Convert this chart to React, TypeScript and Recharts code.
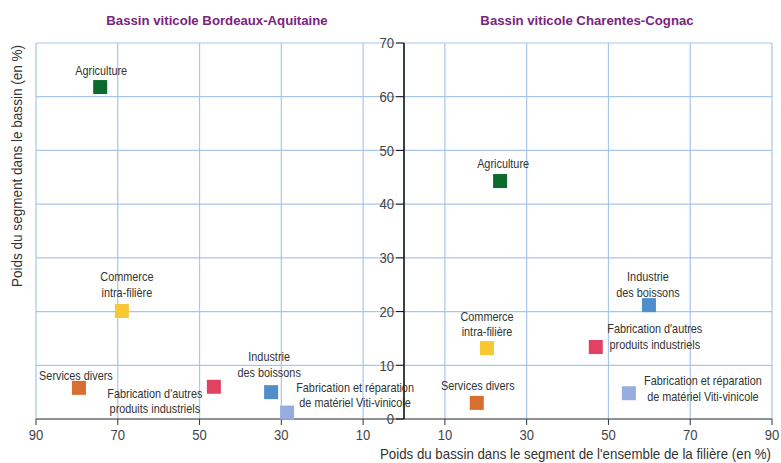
import React from 'react';
import { ScatterChart, Scatter, XAxis, YAxis, CartesianGrid, Cell } from 'recharts';

// ---- Data ----
const segments = [
  'Agriculture',
  'Commerce intra-filière',
  'Services divers',
  "Fabrication d'autres produits industriels",
  'Industrie des boissons',
  'Fabrication et réparation de matériel Viti-vinicole',
];
const segmentLabelLines = [
  ['Agriculture'],
  ['Commerce', 'intra-filière'],
  ['Services divers'],
  ["Fabrication d'autres", 'produits industriels'],
  ['Industrie', 'des boissons'],
  ['Fabrication et réparation', 'de matériel Viti-vinicole'],
];
const segmentColors = ['#0b6a2c', '#f8c832', '#d86f30', '#e2415f', '#4f8dcb', '#98addf'];

// Bordeaux-Aquitaine (left panel)
const bordeauxBasinShare = [74.3, 69.0, 79.5, 46.5, 32.5, 28.6];
const bordeauxSegmentShare = [61.8, 20.1, 5.8, 6.0, 5.0, 1.2];
// Charentes-Cognac (right panel)
const cognacBasinShare = [23.5, 20.3, 17.8, 46.9, 59.9, 55.0];
const cognacSegmentShare = [44.3, 13.2, 3.0, 13.4, 21.2, 4.8];

const xTicks = [10, 30, 50, 70, 90];
const yTicks = [0, 10, 20, 30, 40, 50, 60, 70];

const titleLeft = 'Bassin viticole Bordeaux-Aquitaine';
const titleRight = 'Bassin viticole Charentes-Cognac';
const yTitle = 'Poids du segment dans le bassin (en %)';
const xTitle = "Poids du bassin dans le segment de l'ensemble de la filière (en %)";

// ---- Label layout (offsets from marker centre: dx, then dy per line) ----
const leftLabelLayout = [
  { dx: 1, dy: [-17] },
  { dx: 5, dy: [-35, -19] },
  { dx: -3, dy: [-13] },
  { dx: -59, dy: [6, 21] },
  { dx: -2, dy: [-36, -20] },
  { dx: 68, dy: [-25, -10] },
];
const rightLabelLayout = [
  { dx: 3, dy: [-18] },
  { dx: 0, dy: [-32, -17] },
  { dx: 1, dy: [-18] },
  { dx: 59, dy: [-19, -3] },
  { dx: -1, dy: [-29, -13] },
  { dx: 74, dy: [-13, 3] },
];

const leftData = segments.map((s, i) => ({ name: s, idx: i, x: bordeauxBasinShare[i], y: bordeauxSegmentShare[i] }));
const rightData = segments.map((s, i) => ({ name: s, idx: i, x: cognacBasinShare[i], y: cognacSegmentShare[i] }));

const FONT = '"Liberation Sans", Arial, sans-serif';
const GRID = '#a8c5ea';
const NARROW = 0.87;

const makeShape = (layout: { dx: number; dy: number[] }[]) => (props: any) => {
  const { cx, cy, fill, payload } = props;
  const i = payload.idx;
  const lay = layout[i];
  const s = 14;
  return (
    <g>
      <rect x={cx - s / 2} y={cy - s / 2} width={s} height={s} fill={fill} />
      {segmentLabelLines[i].map((ln, k) => (
        <g key={k} transform={`translate(${cx + lay.dx},${cy + lay.dy[k]}) scale(${NARROW},1)`}>
          <text x={0} y={0} textAnchor="middle" dominantBaseline="central" fontFamily={FONT} fontSize={12.5} fill="#333">
            {ln}
          </text>
        </g>
      ))}
    </g>
  );
};

const XTick = (props: any) => {
  const { x, y, payload } = props;
  return (
    <g transform={`translate(${x},${y + 2}) scale(${NARROW},1)`}>
      <text x={0} y={0} dy="0.71em" textAnchor="middle" fontFamily={FONT} fontSize={15} fill="#444">
        {payload.value}
      </text>
    </g>
  );
};

const YTick = (props: any) => {
  const { x, y, payload } = props;
  return (
    <g transform={`translate(${x},${y}) scale(${NARROW},1)`}>
      <text x={0} y={0} dy="0.355em" textAnchor="end" fontFamily={FONT} fontSize={15} fill="#444">
        {payload.value}
      </text>
    </g>
  );
};

export default function App() {
  return (
    <div style={{ position: 'absolute', left: 0, top: 0, width: 781, height: 463, background: '#fff' }}>
      <div style={{ position: 'absolute', left: 0, top: 0 }}>
        <ScatterChart width={781} height={463} margin={{ top: 43, right: 377, bottom: 14, left: 36 }}>
          <CartesianGrid stroke={GRID} strokeWidth={1.2} />
          <XAxis
            type="number"
            dataKey="x"
            domain={[0, 90]}
            reversed
            ticks={xTicks}
            interval={0}
            height={30}
            axisLine={{ stroke: '#777', strokeWidth: 1.5 }}
            tickLine={{ stroke: '#333' }}
            tickSize={6}
            tick={<XTick />}
          />
          <YAxis type="number" dataKey="y" domain={[0, 70]} ticks={yTicks} hide />
          <Scatter data={leftData} isAnimationActive={false} shape={makeShape(leftLabelLayout)}>
            {leftData.map((d) => (
              <Cell key={d.idx} fill={segmentColors[d.idx]} />
            ))}
          </Scatter>
        </ScatterChart>
      </div>
      <div style={{ position: 'absolute', left: 0, top: 0 }}>
        <ScatterChart width={781} height={463} margin={{ top: 43, right: 9, bottom: 14, left: 364 }}>
          <CartesianGrid stroke={GRID} strokeWidth={1.2} />
          <XAxis
            type="number"
            dataKey="x"
            domain={[0, 90]}
            ticks={xTicks}
            interval={0}
            height={30}
            axisLine={{ stroke: '#777', strokeWidth: 1.5 }}
            tickLine={{ stroke: '#333' }}
            tickSize={6}
            tick={<XTick />}
          />
          <YAxis
            type="number"
            dataKey="y"
            domain={[0, 70]}
            ticks={yTicks}
            interval={0}
            width={40}
            axisLine={{ stroke: '#111', strokeWidth: 1.5 }}
            tickLine={{ stroke: '#111' }}
            tickSize={8}
            tick={<YTick />}
          />
          <Scatter data={rightData} isAnimationActive={false} shape={makeShape(rightLabelLayout)}>
            {rightData.map((d) => (
              <Cell key={d.idx} fill={segmentColors[d.idx]} />
            ))}
          </Scatter>
        </ScatterChart>
      </div>
      <svg width={781} height={463} style={{ position: 'absolute', left: 0, top: 0, pointerEvents: 'none' }}>
        <text x={217} y={20} textAnchor="middle" dominantBaseline="central" fontFamily={FONT} fontWeight="bold" fontSize={13.2} fill="#7a2380">
          {titleLeft}
        </text>
        <text x={587} y={20} textAnchor="middle" dominantBaseline="central" fontFamily={FONT} fontWeight="bold" fontSize={13.2} fill="#7a2380">
          {titleRight}
        </text>
        <text
          x={17}
          y={166}
          transform="rotate(-90 17 166)"
          textAnchor="middle"
          dominantBaseline="central"
          fontFamily={FONT}
          fontSize={14}
          fill="#333"
          textLength={242}
          lengthAdjust="spacingAndGlyphs"
        >
          {yTitle}
        </text>
        <g transform={`translate(771,454) scale(0.95,1)`}>
          <text x={0} y={0} textAnchor="end" dominantBaseline="central" fontFamily={FONT} fontSize={14} fill="#333">
            {xTitle}
          </text>
        </g>
      </svg>
    </div>
  );
}
